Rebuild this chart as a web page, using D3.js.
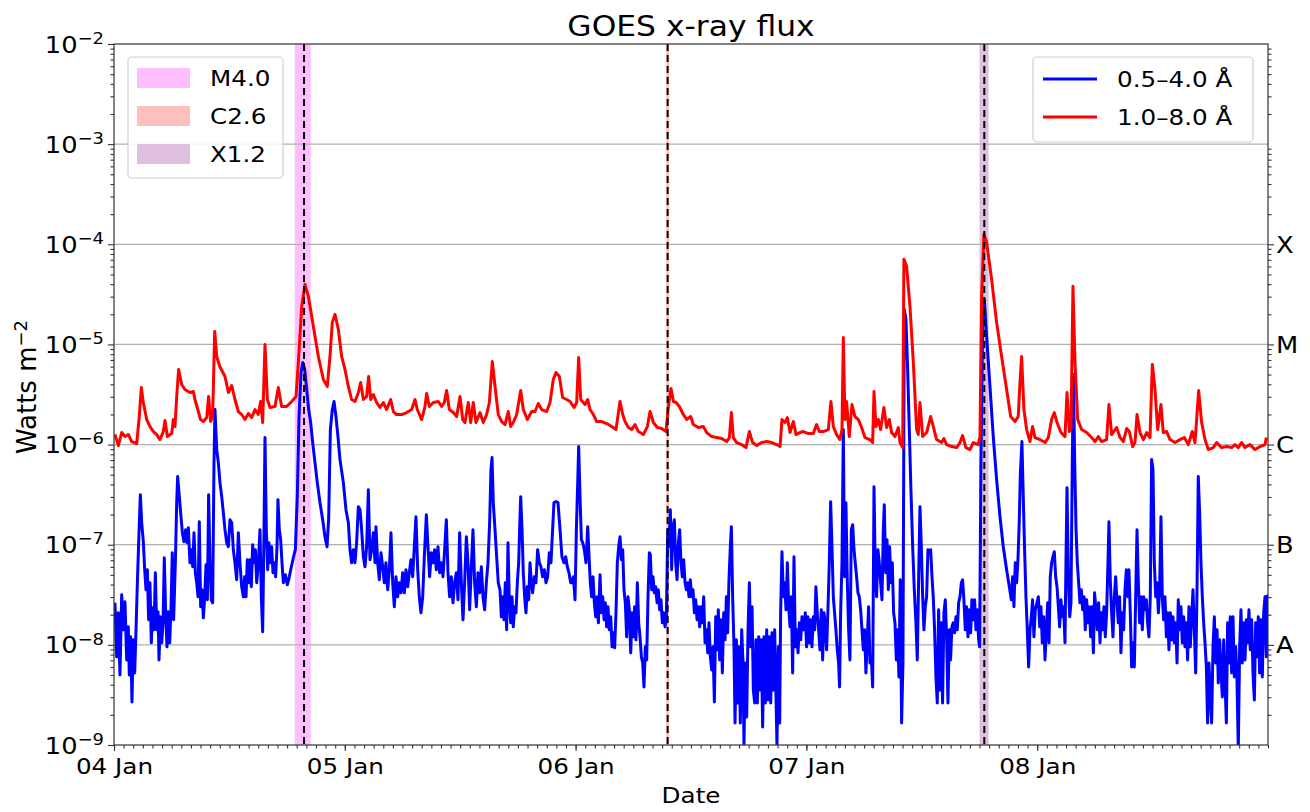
<!DOCTYPE html>
<html><head><meta charset="utf-8">
<script src="https://cdn.jsdelivr.net/npm/d3@7"></script>
<style>body{margin:0;background:#fff}text{font-family:"DejaVu Sans",sans-serif;fill:#000}</style>
</head><body><svg id="c" width="1310" height="812"></svg>
<script>
// ---------------- data ----------------
const startUTC = "2014-01-04T00:00:00Z";
const endUTC = "2014-01-09T00:00:00Z";
const dayTicks = ["2014-01-04","2014-01-05","2014-01-06","2014-01-07","2014-01-08"];
const yTickExps = [-9,-8,-7,-6,-5,-4,-3,-2];
const gridExps = [-8,-7,-6,-5,-4,-3];
const goesClasses = ["A","B","C","M","X"];
const goesClassExps = [-8,-7,-6,-5,-4];
const flareNames = ["M4.0","C2.6","X1.2"];
const flareStartH = [18.8, 57.42, 90.0];   // hours after start
const flarePeakH  = [19.76, 57.57, 90.5];
const flareEndH   = [20.45, 57.72, 90.95];
const flareColors = ["rgb(255,191,255)","rgb(255,191,191)","rgb(223,191,223)"];
const seriesNames = ["0.5\u20134.0 \u00c5","1.0\u20138.0 \u00c5"];
const seriesColors = ["#0000ff","#ff0000"];
// [hours after 04 Jan 00:00 UT, log10 flux (W m^-2)]
const shortChannel = [
[0.1,-7.58],[0.28,-8.12],[0.45,-7.68],[0.62,-8.3],[0.8,-7.5],[0.97,-7.85],[1.14,-7.57],[1.32,-8.15],[1.49,-7.82],[1.59,-8.3],[1.73,-7.92],[1.87,-8.57],[2.01,-7.95],[2.15,-8.28],[2.29,-7.85],[2.43,-7.38],[2.6,-6.88],[2.74,-6.5],[2.88,-6.78],[3.05,-6.97],[3.19,-7.25],[3.33,-7.45],[3.47,-7.25],[3.6,-7.75],[3.74,-7.38],[3.88,-7.98],[4.02,-7.63],[4.16,-7.85],[4.3,-7.28],[4.44,-7.85],[4.58,-7.67],[4.68,-8.15],[4.82,-7.72],[4.96,-7.98],[5.1,-7.78],[5.23,-7.13],[5.37,-7.68],[5.51,-8.02],[5.65,-7.67],[5.79,-7.98],[5.93,-7.62],[6.06,-7.08],[6.2,-7.75],[6.38,-7.18],[6.52,-6.58],[6.62,-6.32],[6.76,-6.48],[6.93,-6.68],[7.11,-6.88],[7.28,-6.97],[7.45,-6.85],[7.59,-6.98],[7.73,-6.83],[7.9,-7.18],[8.04,-7.05],[8.18,-7.22],[8.32,-6.88],[8.46,-7.28],[8.6,-7.38],[8.74,-7.52],[8.87,-6.77],[9.01,-7.62],[9.15,-7.45],[9.29,-7.73],[9.43,-7.52],[9.57,-7.2],[9.71,-7.55],[9.84,-6.5],[9.98,-7.18],[10.12,-7.55],[10.26,-7.58],[10.4,-6.18],[10.5,-5.65],[10.68,-6.05],[10.85,-6.18],[11.02,-6.38],[11.2,-6.52],[11.37,-6.68],[11.54,-6.85],[11.72,-6.98],[11.89,-7.02],[12.06,-6.75],[12.24,-6.78],[12.41,-7.05],[12.58,-7.18],[12.76,-7.35],[12.93,-6.88],[13.1,-7.18],[13.28,-7.42],[13.45,-7.52],[13.59,-7.32],[13.73,-7.52],[13.86,-7.15],[14.0,-7.38],[14.14,-7.15],[14.28,-7.42],[14.42,-7.0],[14.56,-7.18],[14.7,-7.05],[14.84,-7.38],[15.01,-7.18],[15.18,-6.85],[15.32,-7.52],[15.46,-7.87],[15.6,-6.85],[15.7,-5.93],[15.84,-6.85],[15.98,-7.25],[16.11,-6.98],[16.25,-7.18],[16.39,-7.02],[16.53,-7.28],[16.67,-7.18],[16.81,-7.32],[16.95,-7.02],[17.05,-6.55],[17.19,-6.85],[17.33,-6.95],[17.47,-7.18],[17.61,-7.38],[17.82,-7.3],[18.02,-7.4],[18.23,-7.32],[18.44,-7.22],[18.65,-7.13],[18.86,-7.05],[19.06,-6.52],[19.24,-5.72],[19.45,-5.28],[19.62,-5.18],[19.83,-5.25],[20.04,-5.45],[20.24,-5.65],[20.45,-5.78],[20.66,-5.98],[20.9,-6.18],[21.14,-6.38],[21.42,-6.58],[21.7,-6.75],[21.94,-6.92],[22.15,-7.02],[22.32,-6.75],[22.5,-5.85],[22.7,-5.65],[22.88,-5.57],[23.08,-5.72],[23.29,-5.92],[23.5,-6.15],
[23.85,-6.38],[24.12,-6.65],[24.37,-6.78],[24.54,-7.05],[24.71,-7.18],[24.89,-7.05],[25.06,-7.18],[25.23,-6.98],[25.41,-6.62],[25.58,-6.65],[25.75,-6.85],[25.93,-7.12],[26.1,-7.22],[26.27,-7.02],[26.45,-6.45],[26.62,-7.15],[26.79,-7.05],[26.97,-6.88],[27.14,-7.18],[27.24,-6.82],[27.42,-7.18],[27.59,-7.35],[27.76,-7.08],[27.94,-7.22],[28.11,-7.38],[28.28,-7.18],[28.46,-7.45],[28.63,-7.25],[28.8,-6.88],[28.98,-7.38],[29.15,-7.62],[29.32,-7.32],[29.5,-7.52],[29.67,-7.38],[29.84,-7.48],[30.02,-7.28],[30.19,-7.48],[30.36,-7.25],[30.54,-7.42],[30.71,-7.28],[30.88,-7.15],[31.06,-7.32],[31.23,-7.02],[31.4,-6.72],[31.58,-7.25],[31.75,-7.52],[31.92,-7.68],[32.1,-7.52],[32.27,-7.12],[32.48,-6.7],[32.65,-7.02],[32.82,-7.32],[33.0,-7.08],[33.17,-7.18],[33.34,-7.05],[33.52,-7.25],[33.69,-7.02],[33.86,-7.28],[34.04,-7.18],[34.21,-7.32],[34.38,-7.05],[34.56,-6.75],[34.73,-7.28],[34.9,-7.52],[35.08,-7.32],[35.25,-7.58],[35.42,-7.38],[35.6,-7.28],[35.77,-7.55],[35.94,-6.88],[36.12,-7.38],[36.29,-7.75],[36.46,-7.38],[36.64,-6.92],[36.81,-7.18],[36.98,-7.65],[37.16,-7.22],[37.33,-6.85],[37.5,-7.38],[37.68,-7.62],[37.85,-7.28],[38.02,-7.48],[38.2,-7.22],[38.37,-7.52],[38.54,-7.65],[38.72,-7.38],[38.89,-7.18],[39.06,-6.78],[39.2,-6.25],[39.31,-6.13],[39.44,-6.58],[39.62,-6.85],[39.79,-7.12],[39.96,-7.38],[40.14,-7.45],[40.28,-7.72],[40.41,-7.52],[40.55,-7.75],[40.69,-7.38],[40.83,-7.85],[40.97,-6.98],[41.11,-7.58],[41.25,-7.78],[41.39,-7.52],[41.52,-7.82],[41.66,-7.62],[41.8,-7.68],[41.94,-7.38],[42.08,-7.18],[42.18,-6.85],[42.29,-6.52],[42.43,-6.85],[42.56,-7.28],[42.7,-7.52],[42.84,-7.68],[42.98,-7.42],[43.12,-7.55],[43.26,-7.18],[43.4,-7.38],[43.53,-7.48],[43.71,-7.32],[43.88,-7.38],[44.05,-7.05],[44.23,-7.18],[44.4,-7.22],[44.57,-7.32],[44.75,-7.25],[44.92,-7.38],[45.09,-7.32],[45.27,-7.08],[45.44,-7.18],[45.61,-6.85],[45.75,-6.58],[45.96,-6.57],[46.17,-6.58],[46.38,-6.85],[46.58,-7.12],[46.79,-7.18],[46.97,-7.12],[47.14,-7.22],[47.31,-7.28],[47.49,-7.38],
[47.59,-7.38],[47.77,-7.32],[47.94,-7.55],[48.08,-6.85],[48.22,-6.38],[48.32,-6.02],[48.46,-6.52],[48.6,-6.95],[48.74,-6.98],[48.91,-7.05],[49.08,-7.18],[49.26,-6.82],[49.4,-7.12],[49.53,-7.38],[49.67,-7.52],[49.81,-7.32],[49.95,-7.58],[50.09,-7.72],[50.23,-7.52],[50.37,-7.78],[50.54,-7.3],[50.68,-7.68],[50.82,-7.52],[50.96,-7.75],[51.09,-7.58],[51.23,-7.82],[51.37,-7.62],[51.51,-7.85],[51.65,-7.72],[51.79,-8.02],[51.93,-7.88],[52.06,-8.03],[52.2,-7.68],[52.34,-7.18],[52.48,-7.02],[52.62,-6.92],[52.76,-7.15],[52.9,-7.05],[53.03,-7.45],[53.17,-7.58],[53.31,-7.92],[53.45,-7.52],[53.59,-7.65],[53.73,-8.08],[53.87,-7.68],[54.0,-7.92],[54.14,-7.62],[54.28,-7.95],[54.42,-7.38],[54.56,-7.78],[54.7,-7.92],[54.84,-8.12],[54.98,-8.18],[55.11,-8.42],[55.25,-8.02],[55.39,-8.15],[55.53,-7.52],[55.67,-7.08],[55.77,-7.1],[55.91,-7.45],[56.05,-7.32],[56.19,-7.48],[56.33,-7.42],[56.47,-7.58],[56.6,-7.45],[56.74,-7.65],[56.88,-7.55],[57.02,-7.78],[57.16,-7.68],[57.3,-7.82],[57.44,-7.72],[57.58,-6.85],[57.71,-7.02],[57.85,-6.65],[57.99,-7.25],[58.13,-6.82],[58.27,-6.75],[58.41,-7.18],[58.55,-7.35],[58.69,-6.98],[58.82,-6.85],[58.96,-7.18],[59.1,-7.32],[59.24,-7.15],[59.38,-7.38],[59.52,-7.45],[59.66,-7.38],[59.79,-7.52],[59.93,-7.35],[60.07,-7.52],[60.21,-7.45],[60.35,-7.68],[60.49,-7.55],[60.63,-7.75],[60.76,-7.62],[60.9,-7.82],[61.04,-7.62],[61.18,-7.78],[61.32,-7.52],[61.46,-7.98],[61.6,-7.85],[61.74,-8.08],[61.87,-7.78],[62.01,-8.12],[62.15,-8.25],[62.29,-8.02],[62.43,-8.57],[62.57,-7.72],[62.71,-8.05],[62.84,-7.65],[62.98,-8.15],[63.12,-7.75],[63.26,-8.28],[63.4,-7.68],[63.54,-7.95],[63.68,-7.52],[63.81,-7.88],[63.95,-7.35],[64.09,-7.02],[64.2,-6.82],[64.33,-7.52],[64.47,-8.02],[64.58,-8.78],[64.72,-7.95],[64.86,-8.58],[64.99,-8.02],[65.13,-8.78],[65.27,-7.85],[65.41,-8.18],[65.51,-9.0],[65.65,-8.18],[65.79,-8.72],[65.93,-7.85],[66.07,-7.38],[66.21,-8.02],[66.35,-7.62],[66.48,-8.45],[66.62,-8.58],[66.76,-7.95],[66.9,-8.58],[67.04,-7.92],[67.18,-8.45],[67.31,-7.95],[67.45,-8.82],[67.59,-7.92],[67.73,-8.58],[67.87,-7.85],[68.01,-8.55],[68.15,-7.92],[68.29,-8.58],[68.42,-7.88],[68.56,-8.45],[68.7,-7.85],[68.84,-8.52],[68.94,-9.0],[69.08,-8.02],[69.22,-8.78],[69.32,-7.68],[69.46,-7.07],[69.6,-7.52],[69.74,-7.38],[69.88,-7.65],[70.02,-7.18],[70.16,-7.62],[70.3,-7.82],[70.43,-7.52],[70.57,-8.28],[70.71,-7.12],[70.85,-8.02],[70.99,-7.85],[71.13,-8.08],[71.27,-7.78],[71.41,-7.95],[71.54,-7.72],[71.68,-7.85],
[71.75,-7.85],[71.88,-7.68],[72.02,-8.02],[72.16,-7.72],[72.3,-7.98],[72.44,-7.75],[72.58,-8.02],[72.72,-7.72],[72.86,-7.85],[72.99,-7.42],[73.13,-7.68],[73.27,-7.85],[73.41,-8.05],[73.55,-7.65],[73.69,-8.15],[73.83,-7.68],[73.96,-7.78],[74.1,-8.05],[74.24,-7.65],[74.38,-7.18],[74.52,-6.57],[74.66,-7.02],[74.8,-7.52],[74.93,-7.68],[75.07,-7.85],[75.21,-8.05],[75.35,-8.18],[75.45,-8.42],[75.56,-7.68],[75.7,-7.18],[75.84,-5.85],[75.97,-7.32],[76.11,-6.58],[76.25,-7.35],[76.39,-7.85],[76.53,-8.15],[76.67,-6.85],[76.81,-6.8],[76.95,-7.05],[77.08,-7.18],[77.22,-7.32],[77.36,-7.48],[77.5,-7.52],[77.64,-7.65],[77.78,-7.85],[77.92,-8.05],[78.05,-7.85],[78.19,-8.28],[78.33,-7.95],[78.47,-7.62],[78.61,-8.18],[78.75,-8.12],[78.89,-8.42],[79.03,-6.42],[79.16,-7.25],[79.3,-7.52],[79.44,-7.05],[79.58,-7.18],[79.72,-7.38],[79.86,-7.55],[80.0,-6.85],[80.1,-6.6],[80.24,-7.28],[80.38,-6.95],[80.52,-7.45],[80.65,-7.02],[80.79,-7.38],[80.93,-7.18],[81.07,-7.68],[81.21,-7.78],[81.35,-8.15],[81.49,-7.85],[81.62,-8.32],[81.76,-7.35],[81.9,-8.78],[82.04,-8.18],[82.18,-4.65],[82.35,-4.75],[82.53,-5.25],[82.7,-5.85],[82.87,-6.45],[83.05,-7.02],[83.22,-7.45],[83.39,-7.78],[83.53,-8.15],[83.67,-7.35],[83.81,-6.62],[83.95,-7.02],[84.09,-7.52],[84.22,-7.85],[84.36,-7.62],[84.5,-7.52],[84.64,-7.05],[84.78,-7.08],[84.92,-7.05],[85.06,-7.32],[85.19,-7.52],[85.33,-7.85],[85.47,-8.32],[85.61,-8.58],[85.75,-7.65],[85.89,-8.45],[86.03,-7.78],[86.16,-8.58],[86.3,-7.68],[86.44,-7.55],[86.58,-7.92],[86.72,-8.58],[86.86,-7.85],[86.99,-8.15],[87.13,-7.82],[87.27,-7.78],[87.41,-7.88],[87.55,-7.72],[87.69,-7.85],[87.83,-7.58],[87.97,-7.52],[88.11,-7.38],[88.24,-7.35],[88.38,-7.55],[88.52,-7.85],[88.66,-7.62],[88.8,-7.92],[88.94,-7.65],[89.08,-7.88],[89.21,-7.55],[89.35,-7.75],[89.49,-7.55],[89.63,-7.85],[89.77,-7.65],[89.91,-7.95],[90.01,-8.02],[90.15,-6.18],[90.32,-4.85],[90.5,-4.55],[90.74,-4.92],[91.09,-5.42],[91.43,-5.92],[91.78,-6.35],[92.13,-6.72],[92.47,-7.02],[92.82,-7.25],[93.1,-7.42],[93.31,-7.55],[93.44,-7.32],[93.58,-7.62],[93.72,-7.18],[93.86,-7.38],[94.0,-7.15],[94.14,-6.75],[94.24,-6.32],[94.41,-5.97],[94.55,-6.52],[94.69,-7.05],[94.83,-7.52],[94.97,-7.85],[95.11,-8.22],[95.25,-7.85],[95.39,-7.72],[95.52,-7.55],[95.66,-7.92],[95.8,-7.65],
[96.12,-7.52],[96.26,-7.82],[96.39,-7.62],[96.53,-7.98],[96.67,-7.72],[96.81,-8.15],[96.95,-7.85],[97.09,-7.58],[97.23,-7.98],[97.36,-7.32],[97.5,-7.18],[97.64,-7.12],[97.78,-7.07],[97.92,-7.32],[98.06,-7.42],[98.2,-7.62],[98.33,-7.82],[98.47,-7.55],[98.61,-7.72],[98.75,-7.62],[98.89,-7.98],[98.99,-7.18],[99.1,-6.43],[99.24,-7.35],[99.38,-7.72],[99.51,-7.58],[99.65,-6.18],[99.76,-5.3],[99.9,-6.18],[100.04,-6.85],[100.17,-7.18],[100.31,-7.38],[100.45,-7.58],[100.59,-7.45],[100.73,-7.65],[100.87,-7.52],[101.0,-7.85],[101.14,-7.55],[101.28,-7.78],[101.42,-7.62],[101.56,-7.92],[101.7,-7.62],[101.84,-8.08],[101.97,-7.48],[102.11,-7.65],[102.25,-7.85],[102.39,-7.58],[102.53,-7.98],[102.67,-7.68],[102.81,-7.85],[102.94,-7.62],[103.08,-7.92],[103.22,-7.68],[103.36,-7.18],[103.46,-6.77],[103.6,-7.35],[103.74,-7.68],[103.88,-7.92],[104.02,-7.52],[104.16,-7.32],[104.3,-7.58],[104.44,-7.78],[104.57,-7.52],[104.71,-8.08],[104.85,-7.68],[104.99,-7.85],[105.13,-7.45],[105.27,-7.25],[105.41,-7.52],[105.54,-7.25],[105.68,-7.68],[105.82,-8.22],[105.96,-7.98],[106.1,-8.22],[106.24,-7.52],[106.38,-6.85],[106.51,-7.35],[106.65,-7.78],[106.79,-7.52],[106.93,-7.85],[107.07,-7.52],[107.21,-7.65],[107.35,-7.55],[107.48,-7.78],[107.62,-7.92],[107.76,-7.52],[107.9,-6.15],[108.04,-6.25],[108.18,-7.18],[108.32,-7.52],[108.46,-7.38],[108.6,-7.68],[108.73,-7.45],[108.87,-6.72],[109.01,-7.52],[109.15,-7.75],[109.29,-7.52],[109.43,-7.92],[109.57,-7.68],[109.7,-8.05],[109.84,-7.68],[109.98,-7.95],[110.12,-7.72],[110.26,-7.98],[110.4,-7.78],[110.54,-8.18],[110.67,-7.55],[110.81,-7.85],[110.95,-7.62],[111.09,-7.98],[111.23,-7.72],[111.37,-8.02],[111.51,-7.78],[111.64,-8.15],[111.78,-7.62],[111.92,-8.02],[112.06,-7.72],[112.2,-7.45],[112.34,-7.85],[112.48,-8.28],[112.61,-7.52],[112.75,-6.32],[112.89,-6.68],[113.03,-7.18],[113.17,-7.52],[113.31,-7.78],[113.45,-7.98],[113.59,-8.22],[113.72,-8.78],[113.86,-8.18],[114.0,-8.52],[114.14,-8.78],[114.28,-8.02],[114.42,-7.72],[114.56,-8.18],[114.7,-7.85],[114.83,-8.38],[114.97,-7.95],[115.11,-8.25],[115.25,-8.52],[115.39,-7.95],[115.53,-8.38],[115.67,-8.78],[115.8,-7.78],[115.94,-8.18],[116.08,-7.72],[116.22,-8.28],[116.36,-7.72],[116.5,-8.32],[116.64,-8.02],[116.77,-8.32],[116.91,-9.05],[117.05,-8.02],[117.19,-7.65],[117.33,-8.18],[117.47,-7.78],[117.61,-8.15],[117.75,-7.75],[117.88,-7.98],[118.02,-7.65],[118.16,-8.05],[118.3,-7.75],[118.44,-8.28],[118.58,-8.55],[118.72,-7.78],[118.85,-8.12],[118.99,-7.72],[119.13,-8.28],[119.27,-7.75],[119.41,-8.32],[119.55,-7.68],[119.69,-7.52],[119.83,-8.12],[119.9,-7.5]
];
const longChannel = [
[0.1,-5.9],[0.45,-6.01],[0.8,-5.88],[1.14,-5.92],[1.5,-5.9],[1.84,-5.97],[2.36,-5.99],[2.63,-5.72],[2.84,-5.43],[3.05,-5.58],[3.4,-5.75],[3.74,-5.82],[4.1,-5.87],[4.44,-5.9],[4.78,-5.95],[5.13,-5.87],[5.3,-5.76],[5.55,-5.92],[6.0,-5.89],[6.17,-5.75],[6.34,-5.82],[6.52,-5.52],[6.72,-5.25],[7.04,-5.4],[7.38,-5.45],[7.9,-5.48],[8.25,-5.47],[8.42,-5.55],[8.77,-5.67],[9.0,-5.75],[9.3,-5.77],[9.64,-5.73],[9.84,-5.52],[10.05,-5.77],[10.26,-5.72],[10.47,-4.87],[10.68,-5.12],[11.0,-5.22],[11.54,-5.32],[11.9,-5.48],[12.24,-5.41],[12.58,-5.55],[12.93,-5.67],[13.28,-5.7],[13.62,-5.75],[13.97,-5.69],[14.32,-5.73],[14.66,-5.65],[15.0,-5.7],[15.25,-5.57],[15.46,-5.78],[15.7,-5.0],[15.95,-5.55],[16.22,-5.63],[16.74,-5.62],[17.09,-5.43],[17.43,-5.62],[17.95,-5.62],[18.47,-5.57],[18.93,-5.52],[19.17,-5.18],[19.52,-4.62],[19.86,-4.4],[20.21,-4.52],[20.73,-4.82],[21.25,-5.12],[21.77,-5.35],[22.18,-5.42],[22.46,-5.12],[22.7,-4.78],[22.98,-4.7],[23.33,-4.85],
[23.67,-5.12],[24.02,-5.25],[24.37,-5.42],[24.71,-5.55],[25.06,-5.57],[25.41,-5.48],[25.65,-5.38],[25.93,-5.55],[26.27,-5.52],[26.48,-5.32],[26.69,-5.55],[26.97,-5.5],[27.31,-5.58],[27.66,-5.63],[28.0,-5.58],[28.35,-5.65],[28.77,-5.55],[29.05,-5.67],[29.39,-5.7],[29.91,-5.7],[30.43,-5.68],[30.95,-5.65],[31.3,-5.55],[31.54,-5.65],[31.99,-5.75],[32.34,-5.62],[32.51,-5.49],[32.79,-5.62],[33.2,-5.58],[33.73,-5.57],[34.07,-5.62],[34.35,-5.58],[34.59,-5.46],[34.87,-5.65],[35.29,-5.68],[35.63,-5.72],[35.98,-5.52],[36.26,-5.75],[36.5,-5.78],[36.84,-5.58],[37.09,-5.78],[37.36,-5.58],[37.64,-5.78],[38.06,-5.68],[38.4,-5.78],[38.75,-5.7],[39.03,-5.58],[39.34,-5.17],[39.62,-5.42],[39.96,-5.7],[40.31,-5.77],[40.66,-5.8],[41.0,-5.67],[41.25,-5.82],[41.52,-5.78],[41.87,-5.7],[42.29,-5.46],[42.56,-5.65],[42.98,-5.75],[43.43,-5.67],[43.78,-5.67],[44.12,-5.59],[44.47,-5.65],[44.99,-5.67],[45.34,-5.58],[45.68,-5.35],[45.96,-5.28],[46.31,-5.32],[46.65,-5.53],[47.07,-5.55],
[47.42,-5.57],[47.84,-5.63],[48.11,-5.58],[48.32,-5.13],[48.53,-5.55],[48.98,-5.6],[49.26,-5.55],[49.5,-5.65],[49.85,-5.7],[50.19,-5.77],[50.71,-5.77],[51.23,-5.79],[51.75,-5.82],[52.2,-5.85],[52.62,-5.57],[52.9,-5.7],[53.14,-5.77],[53.49,-5.83],[53.83,-5.85],[54.18,-5.8],[54.53,-5.87],[55.05,-5.9],[55.46,-5.82],[55.74,-5.67],[56.09,-5.78],[56.5,-5.83],[56.95,-5.84],[57.4,-5.87],[57.65,-5.62],[57.92,-5.44],[58.17,-5.57],[58.44,-5.58],[58.79,-5.62],[59.2,-5.7],[59.55,-5.75],[59.97,-5.72],[60.24,-5.8],[60.76,-5.83],[61.28,-5.82],[61.63,-5.88],[62.15,-5.92],[62.67,-5.93],[63.19,-5.94],[63.71,-5.97],[63.99,-5.93],[64.2,-5.68],[64.4,-5.93],[64.75,-5.98],[65.27,-6.0],[65.72,-6.03],[66.07,-5.87],[66.41,-5.98],[66.83,-6.01],[67.35,-5.98],[67.87,-5.97],[68.39,-5.98],[68.91,-6.0],[69.26,-6.02],[69.46,-5.75],[69.78,-5.78],[70.02,-5.73],[70.3,-5.88],[70.64,-5.77],[70.92,-5.9],
[71.33,-5.88],[71.68,-5.87],[72.2,-5.89],[72.72,-5.89],[73.06,-5.8],[73.34,-5.87],[73.76,-5.87],[74.28,-5.85],[74.55,-5.57],[74.8,-5.82],[75.14,-5.9],[75.49,-5.95],[75.7,-5.85],[75.84,-4.93],[76.01,-5.75],[76.18,-5.57],[76.46,-5.92],[76.74,-5.6],[77.05,-5.72],[77.4,-5.75],[77.74,-5.83],[78.09,-5.93],[78.61,-5.95],[78.89,-5.98],[79.03,-5.47],[79.23,-5.82],[79.48,-5.75],[79.72,-5.85],[80.06,-5.63],[80.34,-5.83],[80.62,-5.75],[80.86,-5.88],[81.21,-5.92],[81.56,-5.83],[81.73,-5.98],[82.01,-6.03],[82.14,-4.15],[82.42,-4.22],[82.77,-4.62],[83.12,-5.18],[83.46,-5.85],[83.63,-5.9],[83.81,-5.58],[84.09,-5.92],[84.5,-5.88],[84.92,-5.72],[85.2,-5.82],[85.54,-5.95],[86.06,-5.98],[86.3,-5.94],[86.58,-6.0],[87.1,-6.02],[87.62,-6.03],[87.97,-5.98],[88.24,-5.91],[88.59,-6.03],[89.01,-6.05],[89.35,-5.98],[89.87,-6.0],[90.05,-5.92],[90.22,-4.52],[90.46,-3.9],[90.74,-3.98],[91.26,-4.35],[91.78,-4.78],[92.3,-5.12],[92.82,-5.45],[93.24,-5.72],[93.69,-5.77],[94.03,-5.72],[94.21,-5.38],[94.38,-5.12],[94.62,-5.65],[94.9,-5.85],[95.25,-5.97],[95.52,-5.82],
[95.77,-5.93],[96.29,-5.95],[96.81,-5.98],[97.16,-5.93],[97.5,-5.75],[97.78,-5.68],[98.06,-5.78],[98.47,-5.88],[98.89,-5.92],[99.1,-5.48],[99.34,-5.87],[99.51,-5.85],[99.72,-4.42],[99.93,-5.18],[100.21,-5.75],[100.62,-5.85],[101.14,-5.88],[101.66,-5.93],[102.01,-5.97],[102.36,-5.92],[102.7,-5.97],[103.22,-5.95],[103.46,-5.6],[103.74,-5.9],[104.26,-5.83],[104.61,-5.93],[104.96,-5.97],[105.3,-5.84],[105.58,-5.87],[105.93,-6.02],[106.17,-5.98],[106.38,-5.7],[106.69,-5.88],[107.04,-5.95],[107.38,-5.88],[107.73,-5.93],[107.97,-5.2],[108.25,-5.45],[108.53,-5.85],[108.87,-5.6],[109.11,-5.88],[109.46,-5.87],[109.81,-5.95],[110.33,-5.98],[110.85,-5.95],[111.3,-5.93],[111.71,-6.0],[112.13,-5.87],[112.41,-5.98],[112.79,-5.46],[113.1,-5.78],[113.45,-5.95],[113.79,-6.05],[114.31,-6.03],[114.66,-5.98],[115.18,-6.03],[115.7,-6.02],[116.22,-6.03],[116.57,-6.0],[116.91,-6.03],[117.26,-5.98],[117.61,-6.03],[118.13,-6.0],[118.65,-6.05],[119.17,-6.02],[119.69,-6.0],[119.83,-5.93]
];

// ---------------- layout ----------------
const SX = 1.12; // horizontal text stretch of the reference
const M = {l:114, r:1268, t:44, b:745};
const svg = d3.select("#c");
const t0 = new Date(startUTC);
const hoursToDate = h => new Date(t0.getTime() + h*3600e3);
const x = d3.scaleUtc().domain([t0, new Date(endUTC)]).range([M.l, M.r]);
const y = d3.scaleLog().domain([1e-9, 1e-2]).range([M.b, M.t]);

const toRows = arr => arr.map(d => ({t: hoursToDate(d[0]), v: Math.pow(10, d[1])}));
const series = [toRows(shortChannel), toRows(longChannel)];

svg.append("defs").append("clipPath").attr("id","clip")
  .append("rect").attr("x",M.l).attr("y",M.t).attr("width",M.r-M.l).attr("height",M.b-M.t);

// flare bands
svg.append("g").selectAll("rect").data(flareNames).join("rect")
  .attr("x",(d,i)=>x(hoursToDate(flareStartH[i])))
  .attr("width",(d,i)=>x(hoursToDate(flareEndH[i]))-x(hoursToDate(flareStartH[i])))
  .attr("y",M.t).attr("height",M.b-M.t).attr("fill",(d,i)=>flareColors[i]);

// grid
svg.append("g").selectAll("line").data(gridExps).join("line")
  .attr("x1",M.l).attr("x2",M.r).attr("y1",e=>y(Math.pow(10,e))).attr("y2",e=>y(Math.pow(10,e)))
  .attr("stroke","#b0b0b0").attr("stroke-width",1.3);

// series
const line = d3.line().x(d=>x(d.t)).y(d=>y(d.v));
const lg = svg.append("g").attr("clip-path","url(#clip)");
series.forEach((s,i)=>{
  lg.append("path").datum(s).attr("d",line).attr("fill","none")
    .attr("stroke",seriesColors[i]).attr("stroke-width",3).attr("stroke-linejoin","round");
});

// peak lines
svg.append("g").selectAll("line").data(flarePeakH).join("line")
  .attr("x1",h=>x(hoursToDate(h))).attr("x2",h=>x(hoursToDate(h)))
  .attr("y1",M.t).attr("y2",M.b).attr("stroke","#000").attr("stroke-width",2)
  .attr("stroke-dasharray","7,4");

// minor log ticks
const minorVals = [];
for (let e=-9;e<-2;e++) for (let k=2;k<10;k++) minorVals.push(k*Math.pow(10,e));
const styleAxis = g => { g.select(".domain").remove(); g.selectAll("line").attr("stroke","#333").attr("stroke-width",1.1); };

// left axis
svg.append("g").attr("transform",`translate(${M.l},0)`)
  .call(d3.axisLeft(y).tickValues(minorVals).tickSize(3.5).tickFormat(""))
  .call(styleAxis);
const yl = svg.append("g").attr("transform",`translate(${M.l},0)`)
  .call(d3.axisLeft(y).tickValues(yTickExps.map(e=>Math.pow(10,e))).tickSize(6).tickFormat(""))
  .call(styleAxis);
yl.selectAll(".tick").each(function(v){
  const e = Math.round(Math.log10(v));
  const t = d3.select(this).append("text").attr("text-anchor","end")
    .attr("transform",`translate(-10,8) scale(${SX},1)`).style("font-size","23px");
  t.append("tspan").text("10");
  t.append("tspan").attr("dy","-0.55em").style("font-size","16px").text("\u2212"+Math.abs(e));
});

// right axis
svg.append("g").attr("transform",`translate(${M.r},0)`)
  .call(d3.axisRight(y).tickValues(minorVals).tickSize(3.5).tickFormat(""))
  .call(styleAxis);
const yr = svg.append("g").attr("transform",`translate(${M.r},0)`)
  .call(d3.axisRight(y).tickValues(goesClassExps.map(e=>Math.pow(10,e))).tickSize(6).tickFormat(""))
  .call(styleAxis);
yr.selectAll(".tick").append("text").attr("text-anchor","start")
  .attr("transform",`translate(8,8) scale(${SX},1)`).style("font-size","23px")
  .text((v,i)=>goesClasses[i]);

// bottom axis
svg.append("g").attr("transform",`translate(0,${M.b})`)
  .call(d3.axisBottom(x).ticks(d3.utcHour.every(1)).tickSize(3.5).tickFormat(""))
  .call(styleAxis);
const xb = svg.append("g").attr("transform",`translate(0,${M.b})`)
  .call(d3.axisBottom(x).tickValues(dayTicks.map(d=>new Date(d+"T00:00:00Z"))).tickSize(6).tickFormat(""))
  .call(styleAxis);
const fmt = d3.utcFormat("%d %b");
xb.selectAll(".tick").append("text").attr("text-anchor","middle")
  .attr("transform",`translate(0,29) scale(${SX},1)`).style("font-size","22px")
  .text(d=>fmt(d));

// frame
svg.append("rect").attr("x",M.l).attr("y",M.t).attr("width",M.r-M.l).attr("height",M.b-M.t)
  .attr("fill","none").attr("stroke","#333").attr("stroke-width",1.2);

// titles
svg.append("text").attr("text-anchor","middle").attr("transform",`translate(${(M.l+M.r)/2},36) scale(${SX},1)`)
  .style("font-size","28px").text("GOES x-ray flux");
svg.append("text").attr("text-anchor","middle").attr("transform",`translate(${(M.l+M.r)/2},803) scale(${SX},1)`)
  .style("font-size","22px").text("Date");
const ylab = svg.append("text").attr("text-anchor","middle")
  .attr("transform",`translate(36,387) rotate(-90)`).style("font-size","26px");
ylab.append("tspan").text("Watts m");
ylab.append("tspan").attr("dy","-0.5em").style("font-size","18px").text("\u22122");

// legends
function legendBox(x0,y0,w,h){
  svg.append("rect").attr("x",x0).attr("y",y0).attr("width",w).attr("height",h).attr("rx",4)
    .attr("fill","rgba(255,255,255,0.85)").attr("stroke","#d0d0d0").attr("stroke-width",1.2);
}
legendBox(128,57,155,121);
const l1 = svg.append("g").selectAll("g").data(flareNames).join("g")
  .attr("transform",(d,i)=>`translate(137,${78+i*38})`);
l1.append("rect").attr("x",0).attr("y",-10).attr("width",53).attr("height",20).attr("fill",(d,i)=>flareColors[i]);
l1.append("text").attr("transform",`translate(73,8) scale(${SX},1)`).style("font-size","22px").text(d=>d);

legendBox(1033,57,220,85);
const l2 = svg.append("g").selectAll("g").data(seriesNames).join("g")
  .attr("transform",(d,i)=>`translate(1043,${79+i*38})`);
l2.append("line").attr("x1",0).attr("x2",54).attr("stroke",(d,i)=>seriesColors[i]).attr("stroke-width",3);
l2.append("text").attr("transform",`translate(74,8) scale(${SX},1)`).style("font-size","22px").text(d=>d);
</script></body></html>
